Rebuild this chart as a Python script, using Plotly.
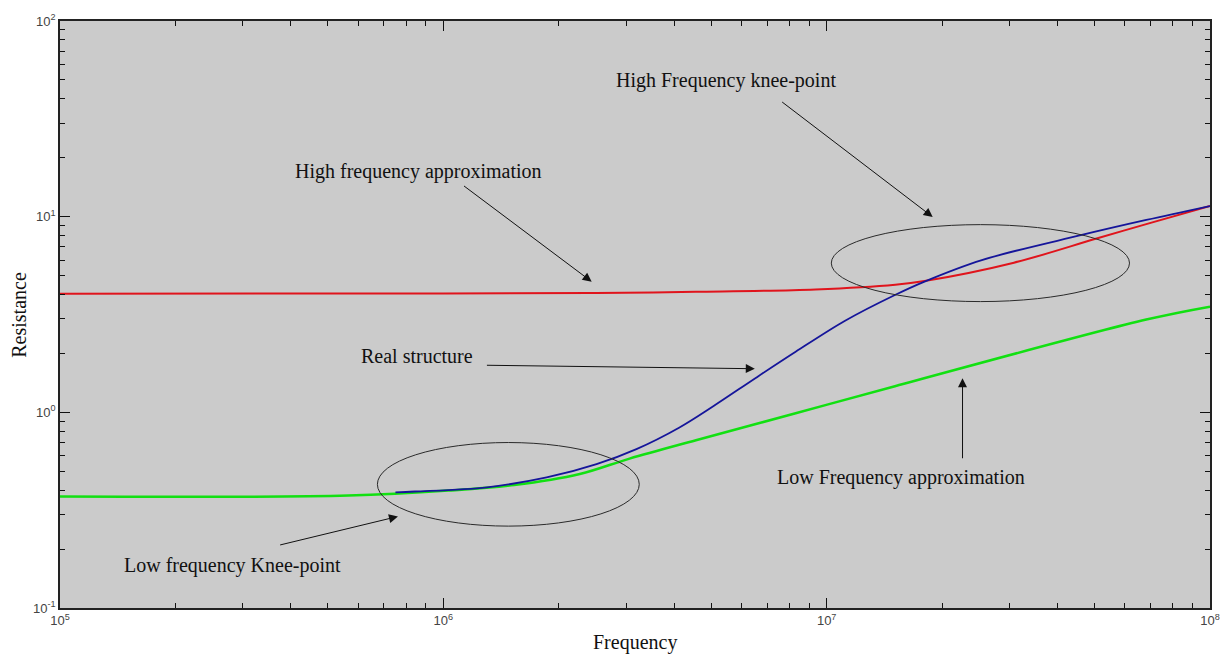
import plotly.graph_objects as go

# ---- data ----
freq_hf = [1e5, 1e6, 2.5e6, 4.56e6, 9.35e6, 1.51e7, 1.8e7, 3.08e7, 5.06e7, 6.82e7, 1e8]
res_hf = [4.04, 4.05, 4.07, 4.13, 4.25, 4.49, 4.69, 5.82, 7.73, 9.16, 11.33]

freq_real = [7.5e5, 8.43e5, 1.30e6, 1.86e6, 2.51e6, 3.19e6, 4.12e6, 5.06e6, 6.53e6,
             8.30e6, 1.117e7, 1.507e7, 1.80e7, 2.54e7, 4.60e7, 6.82e7, 1e8]
res_real = [0.390, 0.394, 0.414, 0.465, 0.544, 0.649, 0.835, 1.075, 1.50,
            2.04, 2.94, 3.98, 4.66, 6.00, 8.04, 9.62, 11.33]

freq_lf = [1e5, 5.65e5, 1.03e6, 1.53e6, 2.27e6, 3.06e6, 4.56e6, 8.30e6, 1.507e7, 6.82e7, 1e8]
res_lf = [0.371, 0.3755, 0.398, 0.425, 0.484, 0.580, 0.720, 0.989, 1.36, 2.98, 3.47]

tick_vals = [1e5, 1e6, 1e7, 1e8]
tick_text = ["10<sup>5</sup>", "10<sup>6</sup>", "10<sup>7</sup>", "10<sup>8</sup>"]
ytick_vals = [0.1, 1, 10, 100]
ytick_text = ["10<sup>-1</sup>", "10<sup>0</sup>", "10<sup>1</sup>", "10<sup>2</sup>"]

SERIF = "Liberation Serif, Times New Roman, serif"
SANS = "Liberation Sans, Arial, sans-serif"

fig = go.Figure()
fig.add_trace(go.Scatter(x=freq_hf, y=res_hf, mode="lines",
                         line=dict(color="#e0141c", width=2, shape="spline", smoothing=1.0)))
fig.add_trace(go.Scatter(x=freq_lf, y=res_lf, mode="lines",
                         line=dict(color="#12e012", width=2.5, shape="spline", smoothing=1.0)))
fig.add_trace(go.Scatter(x=freq_real, y=res_real, mode="lines",
                         line=dict(color="#15159a", width=1.8, shape="spline", smoothing=1.0)))

# ellipses (paper coordinates of the plot area)
for (x0, x1, y0, y1) in [(0.276, 0.5037, 0.1395, 0.2819), (0.6707, 0.930, 0.5220, 0.6531)]:
    fig.add_shape(type="circle", xref="paper", yref="paper", x0=x0, x1=x1, y0=y0, y1=y1,
                  line=dict(color="#2a2a2a", width=1), layer="above")

# arrows: (tail_x, tail_y, head_x, head_y) in log-space
arrows = [
    (6.050, 1.1626, 6.387, 0.6678),
    (6.880, 1.5917, 7.2766, 0.9983),
    (6.1098, 0.2407, 6.8125, 0.2229),
    (7.3544, -0.2424, 7.3544, 0.1746),
    (5.5704, -0.6796, 5.8816, -0.5321),
]
for tx, ty, hx, hy in arrows:
    fig.add_annotation(x=hx, y=hy, ax=tx, ay=ty, xref="x", yref="y", axref="x", ayref="y",
                       text="", showarrow=True, arrowhead=2, arrowsize=1.8, arrowwidth=1,
                       arrowcolor="#111111", startstandoff=0, standoff=0)

labels = [
    ("High frequency approximation", 5.936, 1.2322),
    ("High Frequency knee-point", 6.737, 1.6949),
    ("Real structure", 5.931, 0.2865),
    ("Low Frequency approximation", 7.1936, -0.3339),
    ("Low frequency Knee-point", 5.4512, -0.7813),
]
for txt, x, y in labels:
    fig.add_annotation(x=x, y=y, xref="x", yref="y", text=txt, showarrow=False,
                       font=dict(family=SERIF, size=20, color="#111111"),
                       xanchor="center", yanchor="middle")

# axis titles
fig.add_annotation(x=0.5, y=-0.0593, xref="paper", yref="paper", text="Frequency",
                   showarrow=False, font=dict(family=SERIF, size=20, color="#111111"),
                   xanchor="center", yanchor="middle")
fig.add_annotation(x=-0.0363, y=0.5, xref="paper", yref="paper", text="Resistance",
                   textangle=-90, showarrow=False,
                   font=dict(family=SERIF, size=20, color="#111111"),
                   xanchor="center", yanchor="middle")

axis_common = dict(
    type="log", tickmode="array",
    ticks="inside", ticklen=10, tickwidth=1, tickcolor="#111111",
    showline=True, linecolor="#222222", linewidth=1.5, mirror="ticks",
    showgrid=False, zeroline=False,
    tickfont=dict(family=SANS, size=13, color="#444444"),
    minor=dict(ticks="inside", ticklen=5, tickwidth=1, tickcolor="#111111",
               dtick="D1", showgrid=False),
)

fig.update_xaxes(range=[5, 8], tickvals=tick_vals, ticktext=tick_text, **axis_common)
fig.update_yaxes(range=[-1, 2], tickvals=ytick_vals, ticktext=ytick_text, **axis_common)

fig.update_layout(
    width=1232, height=659,
    margin=dict(l=60, r=15, t=18, b=51),
    plot_bgcolor="#cbcbcb", paper_bgcolor="white",
    showlegend=False,
)

fig.write_html("out.html")
